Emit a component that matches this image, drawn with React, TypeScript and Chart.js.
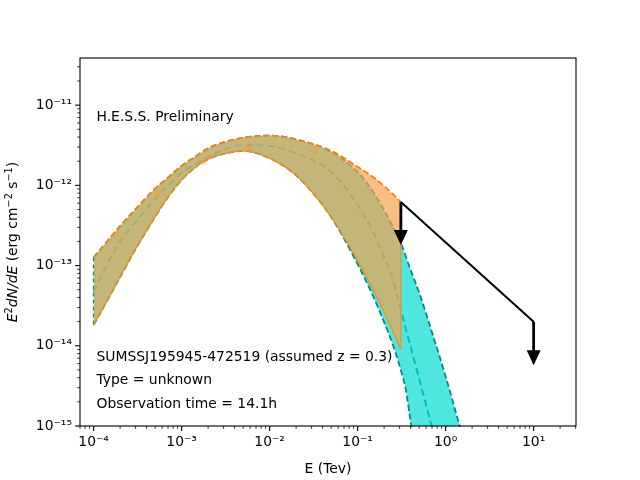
import React, { useEffect, useRef } from 'react';
import { Chart, registerables } from 'chart.js';

Chart.register(...registerables);

// ---- data ----
const bandEnergy = [1e-4, 2e-4, 3e-4, 5e-4, 7e-4, 1e-3, 1.5e-3, 2e-3, 3e-3, 5e-3, 1e-2, 2e-2, 5e-2, 0.1, 0.15, 0.2, 0.25, 0.31];
const orangeUpper = [1.26e-13, 3.1e-13, 5.05e-13, 9.1e-13, 1.25e-12, 1.75e-12, 2.36e-12, 2.89e-12, 3.43e-12, 3.91e-12, 4.17e-12, 3.74e-12, 2.7e-12, 1.7e-12, 1.27e-12, 9.8e-13, 7.8e-13, 6.2e-13];
const orangeLower = [1.81e-14, 7.2e-14, 1.61e-13, 4.05e-13, 7.17e-13, 1.17e-12, 1.75e-12, 2.12e-12, 2.47e-12, 2.69e-12, 2.17e-12, 1.33e-12, 4.03e-13, 1.15e-13, 4.99e-14, 2.63e-14, 1.53e-14, 9.1e-15];

const cyanUpperEnergy = [1e-4, 2e-4, 3e-4, 5e-4, 7e-4, 1e-3, 1.5e-3, 2e-3, 3e-3, 5e-3, 1e-2, 2e-2, 5e-2, 0.1, 0.15, 0.2, 0.25, 0.31, 0.4, 0.5, 0.7, 1.0, 1.5];
const cyanUpper = [1.26e-13, 3.1e-13, 5.05e-13, 9.1e-13, 1.25e-12, 1.75e-12, 2.36e-12, 2.89e-12, 3.43e-12, 3.91e-12, 4.17e-12, 3.74e-12, 2.6e-12, 1.47e-12, 8.3e-13, 4.9e-13, 3.1e-13, 1.91e-13, 8.8e-14, 4.6e-14, 1.47e-14, 4.15e-15, 8.6e-16];
const cyanLowerEnergy = [1e-4, 2e-4, 3e-4, 5e-4, 7e-4, 1e-3, 1.5e-3, 2e-3, 3e-3, 5e-3, 1e-2, 2e-2, 5e-2, 0.1, 0.15, 0.2, 0.25, 0.31, 0.35, 0.4, 0.45, 0.6, 1.0, 1.5];
const cyanLower = [1.81e-14, 7.2e-14, 1.61e-13, 4.05e-13, 7.17e-13, 1.17e-12, 1.75e-12, 2.12e-12, 2.47e-12, 2.69e-12, 2.17e-12, 1.33e-12, 4.03e-13, 1.04e-13, 4.16e-14, 1.97e-14, 1.05e-14, 4.96e-15, 2.96e-15, 1.15e-15, 5.4e-16, 1.5e-16, 3e-17, 8e-18];
const cyanCenterEnergy = [1e-4, 2e-4, 3e-4, 5e-4, 7e-4, 1e-3, 1.5e-3, 2e-3, 3e-3, 5e-3, 1e-2, 2e-2, 5e-2, 0.1, 0.15, 0.2, 0.25, 0.31, 0.4, 0.5, 0.7];
const cyanCenter = [4.7e-14, 2.02e-13, 3.49e-13, 6.86e-13, 9.84e-13, 1.43e-12, 1.9e-12, 2.26e-12, 2.77e-12, 3.21e-12, 3.1e-12, 2.5e-12, 1.47e-12, 5.7e-13, 2.62e-13, 1.24e-13, 6.8e-14, 2.78e-14, 9.7e-15, 3.9e-15, 9.6e-16];

const pointEnergy = [1.82e-4, 5.4e-4, 1.76e-3, 5.7e-3, 3.27e-2];
const pointFlux = [2.4e-13, 7.6e-13, 1.98e-12, 3.04e-12, 2.63e-12];

const ulEnergy = [0.31, 10];
const ulFlux = [6.2e-13, 2.0e-14];
const ulArrowTip = [1.8e-13, 5.7e-15];

const xMajorTicks = [1e-4, 1e-3, 1e-2, 1e-1, 1e0, 1e1];
const yMajorTicks = [1e-15, 1e-14, 1e-13, 1e-12, 1e-11];
const xMin = 7e-5;
const xMax = 30.3;
const yMin = 1e-15;
const yMax = 3.87e-11;

const annotationLines = [
  'H.E.S.S. Preliminary',
  'SUMSSJ195945-472519 (assumed z = 0.3)',
  'Type = unknown',
  'Observation time = 14.1h',
];
const xTitle = 'E (Tev)';

const FONT = '"DejaVu Sans", "Liberation Sans", sans-serif';
const FS = 13.9;

const SUP: Record<string, string> = {
  '-': '\u207B', '0': '\u2070', '1': '\u00B9', '2': '\u00B2', '3': '\u00B3',
  '4': '\u2074', '5': '\u2075', '6': '\u2076', '7': '\u2077', '8': '\u2078', '9': '\u2079',
};
const powLabel = (v: number) => {
  const e = Math.round(Math.log10(v));
  return '10' + String(e).split('').map((c) => SUP[c] || c).join('');
};

const pts = (xs: number[], ys: number[]) => xs.map((x, i) => ({ x, y: ys[i] }));

const decorPlugin = {
  id: 'decor',
  afterDatasetsDraw(chart: any) {
    const { ctx, scales } = chart;
    const xs = scales.x;
    const ys = scales.y;
    ctx.save();
    ctx.fillStyle = '#000';
    ctx.strokeStyle = '#000';
    for (let i = 0; i < ulEnergy.length; i++) {
      const px = xs.getPixelForValue(ulEnergy[i]);
      const py0 = ys.getPixelForValue(ulFlux[i]);
      const pyTip = ys.getPixelForValue(ulArrowTip[i]);
      const head = 15;
      const hw = 7;
      ctx.lineWidth = 2.8;
      ctx.beginPath();
      ctx.moveTo(px, py0);
      ctx.lineTo(px, pyTip - head + 1);
      ctx.stroke();
      ctx.beginPath();
      ctx.moveTo(px - hw, pyTip - head);
      ctx.lineTo(px + hw, pyTip - head);
      ctx.lineTo(px, pyTip);
      ctx.closePath();
      ctx.fill();
    }
    ctx.restore();
  },
  afterDraw(chart: any) {
    const { ctx, chartArea: a, scales } = chart;
    const xs = scales.x;
    const ys = scales.y;
    ctx.save();
    ctx.strokeStyle = '#000';
    ctx.lineWidth = 1.1;
    ctx.strokeRect(a.left, a.top, a.right - a.left, a.bottom - a.top);
    const drawXTick = (v: number, len: number, w: number) => {
      const p = xs.getPixelForValue(v);
      if (p < a.left - 0.5 || p > a.right + 0.5) return;
      ctx.lineWidth = w;
      ctx.beginPath();
      ctx.moveTo(p, a.bottom);
      ctx.lineTo(p, a.bottom + len);
      ctx.stroke();
    };
    const drawYTick = (v: number, len: number, w: number) => {
      const p = ys.getPixelForValue(v);
      if (p > a.bottom + 0.5 || p < a.top - 0.5) return;
      ctx.lineWidth = w;
      ctx.beginPath();
      ctx.moveTo(a.left, p);
      ctx.lineTo(a.left - len, p);
      ctx.stroke();
    };
    for (let e = -5; e <= 1; e++) {
      for (let m = 1; m <= 9; m++) {
        const v = m * Math.pow(10, e);
        if (v < xMin || v > xMax) continue;
        if (m === 1) drawXTick(v, 4.9, 1.1);
        else drawXTick(v, 2.8, 0.8);
      }
    }
    for (let e = -15; e <= -11; e++) {
      for (let m = 1; m <= 9; m++) {
        const v = m * Math.pow(10, e);
        if (v < yMin * 0.999 || v > yMax) continue;
        if (m === 1) drawYTick(v, 4.9, 1.1);
        else drawYTick(v, 2.8, 0.8);
      }
    }
    ctx.fillStyle = '#000';
    ctx.textAlign = 'left';
    ctx.textBaseline = 'alphabetic';
    ctx.font = `${FS}px ${FONT}`;
    const ty = [120.7, 360.7, 384.3, 408.3];
    annotationLines.forEach((t, i) => ctx.fillText(t, 96.5, ty[i]));
    ctx.textAlign = 'center';
    ctx.fillText(xTitle, (a.left + a.right) / 2, 472.5);
    const segs: { t: string; k: 'i' | 'n' | 's' }[] = [
      { t: 'E', k: 'i' }, { t: '2', k: 's' }, { t: 'dN/dE', k: 'i' },
      { t: ' (erg cm', k: 'n' }, { t: '\u22122', k: 's' }, { t: ' s', k: 'n' },
      { t: '\u22121', k: 's' }, { t: ')', k: 'n' },
    ];
    const fontOf = (k: string) =>
      k === 'i' ? `italic ${FS}px ${FONT}` : k === 's' ? `${FS * 0.7}px ${FONT}` : `${FS}px ${FONT}`;
    let total = 0;
    const widths = segs.map((s) => {
      ctx.font = fontOf(s.k);
      const w = ctx.measureText(s.t).width;
      total += w;
      return w;
    });
    ctx.translate(17, (a.top + a.bottom) / 2);
    ctx.rotate(-Math.PI / 2);
    ctx.textAlign = 'left';
    let cx = -total / 2;
    segs.forEach((s, i) => {
      ctx.font = fontOf(s.k);
      ctx.fillText(s.t, cx, s.k === 's' ? -5.5 : 0);
      cx += widths[i];
    });
    ctx.restore();
  },
};

export default function App() {
  const ref = useRef<HTMLCanvasElement>(null);
  useEffect(() => {
    const canvas = ref.current;
    if (!canvas) return;
    const teal = 'rgb(0,139,139)';
    const orangeEdge = 'rgb(245,130,25)';
    const common = { pointRadius: 0, cubicInterpolationMode: 'monotone', clip: 1 } as any;
    const chart = new Chart(canvas, {
      type: 'line',
      data: {
        datasets: [
          {
            ...common, data: pts(cyanUpperEnergy, cyanUpper), order: 20,
            fill: 1, backgroundColor: 'rgb(80,230,224)', borderColor: teal, borderWidth: 1.8, borderDash: [6, 3],
          },
          {
            ...common, data: pts(cyanLowerEnergy, cyanLower), order: 19, fill: false,
            borderColor: teal, borderWidth: 1.8, borderDash: [6, 3],
          },
          {
            ...common, data: pts(cyanCenterEnergy, cyanCenter), order: 18, fill: false,
            borderColor: 'rgb(0,190,190)', borderWidth: 2, borderDash: [7, 4],
          },
          {
            ...common, cubicInterpolationMode: 'default', tension: 0,
            data: [{ x: bandEnergy[0], y: cyanUpper[0] }, { x: bandEnergy[0], y: cyanLower[0] }],
            order: 17, fill: false, borderColor: teal, borderWidth: 1.6, borderDash: [4, 3],
          },
          {
            ...common, data: pts(bandEnergy, orangeUpper), order: 10,
            fill: 5, backgroundColor: 'rgba(248,161,74,0.69)', borderColor: orangeEdge, borderWidth: 1.8, borderDash: [6, 3],
          },
          {
            ...common, data: pts(bandEnergy, orangeLower), order: 9, fill: false,
            borderColor: 'rgb(250,140,20)', borderWidth: 1.2,
          },
          {
            ...common, cubicInterpolationMode: 'default', tension: 0,
            data: [{ x: bandEnergy[bandEnergy.length - 1], y: orangeUpper[orangeUpper.length - 1] }, { x: bandEnergy[bandEnergy.length - 1], y: orangeLower[orangeLower.length - 1] }],
            order: 8, fill: false, borderColor: 'rgb(250,140,20)', borderWidth: 1.2,
          },
          {
            ...common, data: pts(pointEnergy, pointFlux), order: 7, showLine: false,
            pointRadius: 3.2, pointBackgroundColor: 'rgba(255,150,40,0.35)', pointBorderWidth: 0,
          },
          {
            ...common, cubicInterpolationMode: 'default', tension: 0, data: pts(ulEnergy, ulFlux), order: 1, fill: false,
            borderColor: '#000', borderWidth: 2,
          },
        ],
      },
      options: {
        animation: false,
        responsive: false,
        devicePixelRatio: 1,
        layout: { padding: { top: 58, right: 64, left: 0, bottom: 0 } },
        plugins: { legend: { display: false }, tooltip: { enabled: false } },
        events: [],
        scales: {
          x: {
            type: 'logarithmic', min: xMin, max: xMax,
            grid: { display: false, drawTicks: true, tickLength: 5 },
            border: { display: false },
            afterBuildTicks: (s: any) => { s.ticks = xMajorTicks.map((v) => ({ value: v })); },
            afterFit: (s: any) => { s.height = 54; },
            ticks: {
              autoSkip: false, maxRotation: 0, minRotation: 0, padding: 3, color: '#000',
              font: { family: FONT, size: FS },
              callback: (v: any) => powLabel(Number(v)),
            },
          },
          y: {
            type: 'logarithmic', min: yMin, max: yMax,
            grid: { display: false, drawTicks: true, tickLength: 5 },
            border: { display: false },
            afterBuildTicks: (s: any) => { s.ticks = yMajorTicks.map((v) => ({ value: v })); },
            afterFit: (s: any) => { s.width = 80; },
            ticks: {
              autoSkip: false, padding: 3, color: '#000',
              font: { family: FONT, size: FS },
              callback: (v: any) => powLabel(Number(v)),
            },
          },
        },
      } as any,
      plugins: [decorPlugin],
    });
    return () => chart.destroy();
  }, []);
  return (
    <div style={{ position: 'absolute', left: 0, top: 0, width: 640, height: 480, background: '#fff' }}>
      <canvas ref={ref} width={640} height={480} style={{ display: 'block' }} />
    </div>
  );
}
